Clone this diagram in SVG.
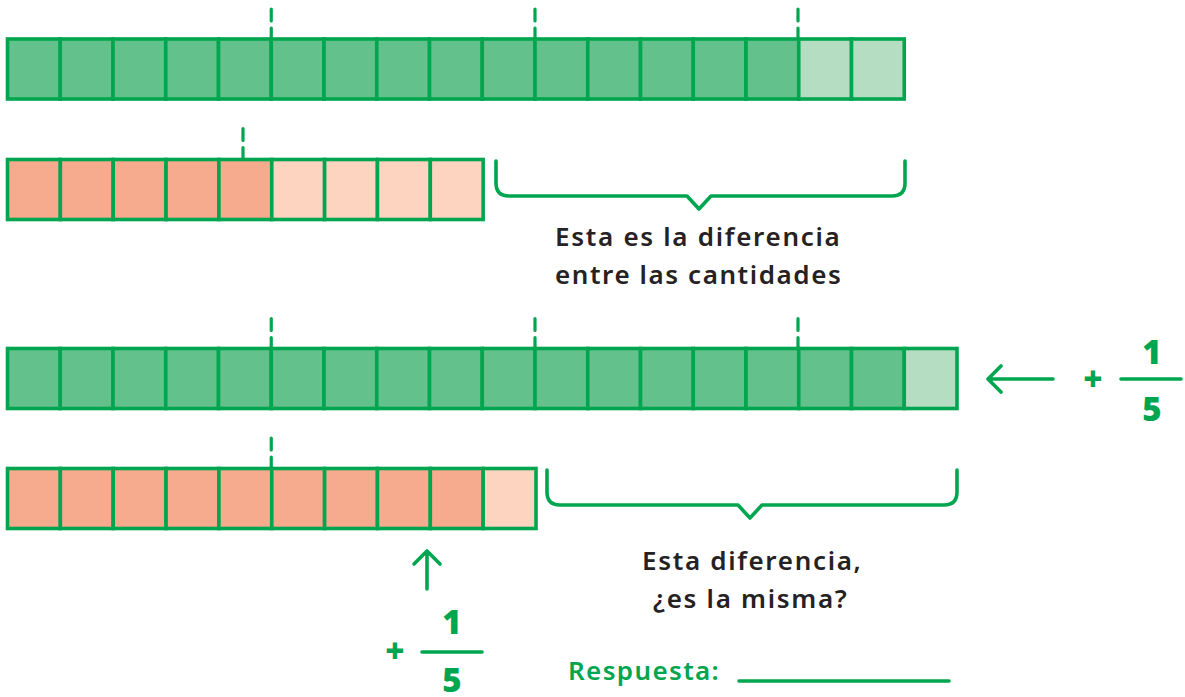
<svg xmlns="http://www.w3.org/2000/svg" width="1185" height="697" viewBox="0 0 1185 697">
<style>
.g{fill:#63c28c}.gl{fill:#b4ddc2}.s{fill:#f6ab8e}.sl{fill:#fcd4c0}
.cell rect{stroke:#00a64f;stroke-width:3.6}
.tick{stroke:#00a64f;stroke-width:3.2;stroke-linecap:round;stroke-dasharray:12 7;fill:none}
.br{fill:none;stroke:#00a64f;stroke-width:3.6;stroke-linecap:round;stroke-linejoin:round}
.ln{fill:none;stroke:#00a64f;stroke-width:3.6;stroke-linecap:round;stroke-linejoin:round}
.t{font-family:"Noto Sans",sans-serif;font-size:26px;font-weight:600;fill:#262223;letter-spacing:1.2px}
.n{font-family:"Open Sans",sans-serif;font-size:33px;font-weight:800;fill:#00a64f;text-anchor:middle}
.r{font-family:"Noto Sans",sans-serif;font-size:26px;font-weight:600;fill:#00a64f;letter-spacing:1.2px}
</style>
<g id="bar1" class="cell">
<rect class="g" x="7.5" y="39" width="52.75" height="60"/><rect class="g" x="60.25" y="39" width="52.75" height="60"/><rect class="g" x="113" y="39" width="52.75" height="60"/><rect class="g" x="165.75" y="39" width="52.75" height="60"/><rect class="g" x="218.5" y="39" width="52.75" height="60"/><rect class="g" x="271.25" y="39" width="52.75" height="60"/><rect class="g" x="324" y="39" width="52.75" height="60"/><rect class="g" x="376.75" y="39" width="52.75" height="60"/><rect class="g" x="429.5" y="39" width="52.75" height="60"/><rect class="g" x="482.25" y="39" width="52.75" height="60"/><rect class="g" x="535" y="39" width="52.75" height="60"/><rect class="g" x="587.75" y="39" width="52.75" height="60"/><rect class="g" x="640.5" y="39" width="52.75" height="60"/><rect class="g" x="693.25" y="39" width="52.75" height="60"/><rect class="g" x="746" y="39" width="52.75" height="60"/><rect class="gl" x="798.75" y="39" width="52.75" height="60"/><rect class="gl" x="851.5" y="39" width="52.75" height="60"/>
</g>
<g id="bar2" class="cell">
<rect class="s" x="7.5" y="159.5" width="52.85" height="60"/><rect class="s" x="60.35" y="159.5" width="52.85" height="60"/><rect class="s" x="113.2" y="159.5" width="52.85" height="60"/><rect class="s" x="166.05" y="159.5" width="52.85" height="60"/><rect class="s" x="218.9" y="159.5" width="52.85" height="60"/><rect class="sl" x="271.75" y="159.5" width="52.85" height="60"/><rect class="sl" x="324.6" y="159.5" width="52.85" height="60"/><rect class="sl" x="377.45" y="159.5" width="52.85" height="60"/><rect class="sl" x="430.3" y="159.5" width="52.85" height="60"/>
</g>
<g id="bar3" class="cell">
<rect class="g" x="7.5" y="348.5" width="52.75" height="60"/><rect class="g" x="60.25" y="348.5" width="52.75" height="60"/><rect class="g" x="113" y="348.5" width="52.75" height="60"/><rect class="g" x="165.75" y="348.5" width="52.75" height="60"/><rect class="g" x="218.5" y="348.5" width="52.75" height="60"/><rect class="g" x="271.25" y="348.5" width="52.75" height="60"/><rect class="g" x="324" y="348.5" width="52.75" height="60"/><rect class="g" x="376.75" y="348.5" width="52.75" height="60"/><rect class="g" x="429.5" y="348.5" width="52.75" height="60"/><rect class="g" x="482.25" y="348.5" width="52.75" height="60"/><rect class="g" x="535" y="348.5" width="52.75" height="60"/><rect class="g" x="587.75" y="348.5" width="52.75" height="60"/><rect class="g" x="640.5" y="348.5" width="52.75" height="60"/><rect class="g" x="693.25" y="348.5" width="52.75" height="60"/><rect class="g" x="746" y="348.5" width="52.75" height="60"/><rect class="g" x="798.75" y="348.5" width="52.75" height="60"/><rect class="g" x="851.5" y="348.5" width="52.75" height="60"/><rect class="gl" x="904.25" y="348.5" width="52.75" height="60"/>
</g>
<g id="bar4" class="cell">
<rect class="s" x="7.5" y="468.5" width="52.85" height="60"/><rect class="s" x="60.35" y="468.5" width="52.85" height="60"/><rect class="s" x="113.2" y="468.5" width="52.85" height="60"/><rect class="s" x="166.05" y="468.5" width="52.85" height="60"/><rect class="s" x="218.9" y="468.5" width="52.85" height="60"/><rect class="s" x="271.75" y="468.5" width="52.85" height="60"/><rect class="s" x="324.6" y="468.5" width="52.85" height="60"/><rect class="s" x="377.45" y="468.5" width="52.85" height="60"/><rect class="s" x="430.3" y="468.5" width="52.85" height="60"/><rect class="sl" x="483.15" y="468.5" width="52.85" height="60"/>
</g>
<g id="ticks">
<line class="tick" x1="271.25" y1="9" x2="271.25" y2="38"/><line class="tick" x1="535" y1="9" x2="535" y2="38"/><line class="tick" x1="798" y1="9" x2="798" y2="38"/>
<line class="tick" x1="243" y1="128.5" x2="243" y2="158"/>
<line class="tick" x1="271.25" y1="318.5" x2="271.25" y2="347"/><line class="tick" x1="535" y1="318.5" x2="535" y2="347"/><line class="tick" x1="798" y1="318.5" x2="798" y2="347"/>
<line class="tick" x1="271.25" y1="438" x2="271.25" y2="467"/>
</g>
<g id="connectors">
<path class="br" d="M496 161 V183 Q496 196 509 196 H687 L699 209 L711 196 H892 Q905 196 905 183 V161"/>
<path class="br" d="M547 470 V492 Q547 505 560 505 H738 L750 518 L762 505 H944 Q957 505 957 492 V470"/>
<path class="ln" d="M1053 379 H988 M1001 366 L988 379 L1001 392"/>
<path class="ln" d="M427 589 V551 M414 564 L427 551 L440 564"/>
<line class="ln" x1="1121" y1="379" x2="1181" y2="379"/>
<line class="ln" x1="422" y1="652" x2="482" y2="652"/>
<line class="ln" x1="739" y1="681" x2="949" y2="681"/>
</g>
<g id="labels">
<text class="t" x="555" y="246" textLength="286" lengthAdjust="spacing">Esta es la diferencia</text>
<text class="t" x="555" y="284" textLength="287" lengthAdjust="spacing">entre las cantidades</text>
<text class="t" x="642" y="570" textLength="220" lengthAdjust="spacing">Esta diferencia,</text>
<text class="t" x="653" y="608" textLength="195" lengthAdjust="spacing">¿es la misma?</text>
<text class="r" x="568" y="680" textLength="152" lengthAdjust="spacing">Respuesta:</text>
<text class="n" x="1093" y="391">+</text>
<text class="n" x="1152" y="364">1</text>
<text class="n" x="1152" y="421">5</text>
<text class="n" x="395" y="663">+</text>
<text class="n" x="452" y="634">1</text>
<text class="n" x="452" y="692">5</text>
</g>
</svg>
